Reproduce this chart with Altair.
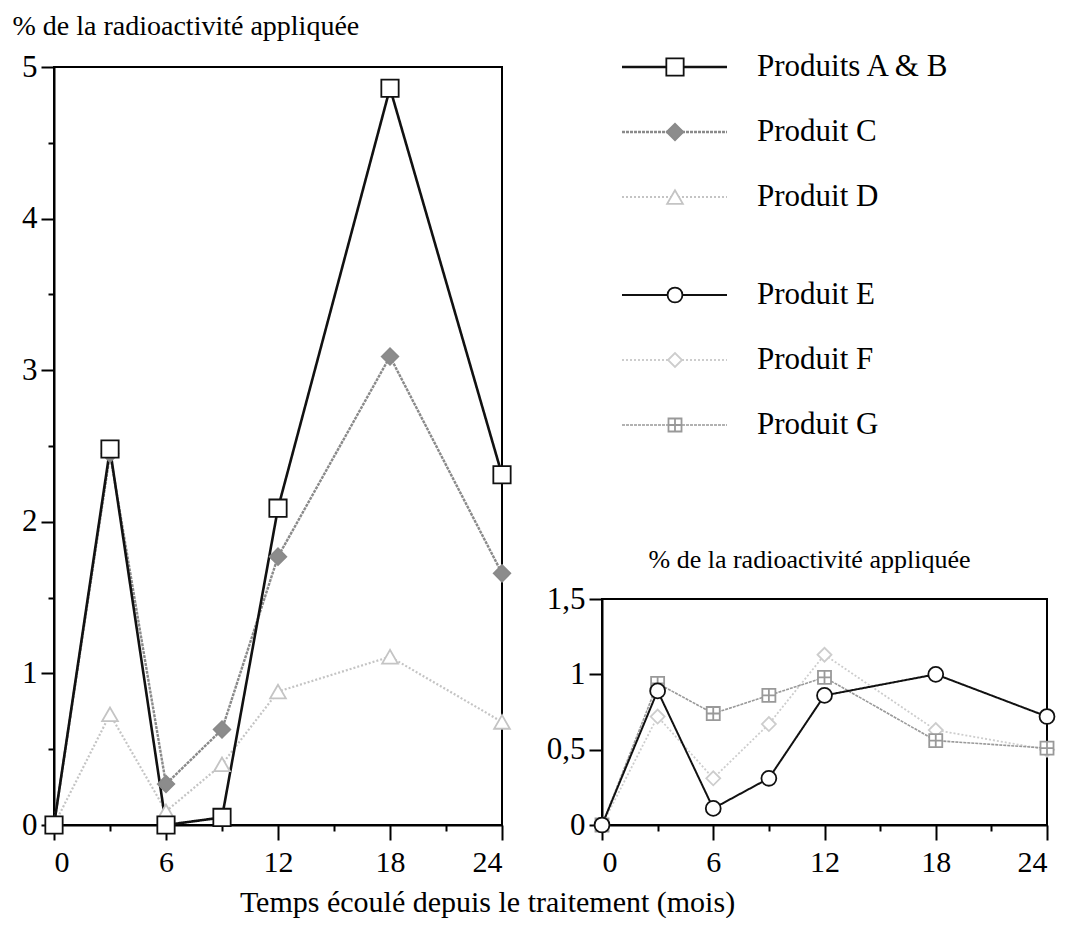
import altair as alt
import pandas as pd

# ---- data ----
months = [0, 3, 6, 9, 12, 18, 24]
prod_ab = [0, 2.48, 0, 0.05, 2.09, 4.86, 2.31]
prod_c = [0, 2.45, 0.27, 0.63, 1.77, 3.09, 1.66]
prod_d = [0, 0.73, 0.09, 0.40, 0.88, 1.11, 0.68]
prod_e = [0, 0.89, 0.11, 0.31, 0.86, 1.00, 0.72]
prod_f = [0, 0.72, 0.31, 0.67, 1.13, 0.63, 0.50]
prod_g = [0, 0.94, 0.74, 0.86, 0.98, 0.56, 0.51]

left_names = ["Produits A & B", "Produit C", "Produit D"]
right_names = ["Produit E", "Produit F", "Produit G"]
all_names = left_names + right_names

left_ticks = [0, 0.5, 1, 1.5, 2, 2.5, 3, 3.5, 4, 4.5, 5]
right_ticks = [0, 0.5, 1, 1.5]
x_ticks = [0, 3, 6, 9, 12, 15, 18, 21, 24]

# ---- styles ----
stroke_colors = ["#111111", "#8a8a8a", "#c4c4c4", "#111111", "#cdcdcd", "#999999"]
fill_colors = ["white", "#8c8c8c", "white", "white", "white", "white"]
dashes = [[1, 0], [3, 1], [2, 2], [1, 0], [2, 2], [3, 1]]
widths = [2.6, 1.6, 1.4, 2.2, 1.4, 1.6]
shapes = ["square", "diamond", "triangle-up", "circle", "diamond",
          "M-1,-1H1V1H-1ZM0,-1V1M-1,0H1"]
sizes = [300, 170, 200, 320, 180, 230]

FONT = "Liberation Serif"

def long(names, series):
    rows = []
    for n, vals in zip(names, series):
        for m, v in zip(months, vals):
            rows.append({"month": m, "value": v, "series": n})
    return pd.DataFrame(rows)

# draw order: lighter series first, black series on top
left_df = long(["Produit D", "Produit C", "Produits A & B"], [prod_d, prod_c, prod_ab])
right_df = long(["Produit F", "Produit G", "Produit E"], [prod_f, prod_g, prod_e])

def enc_scales():
    return dict(
        stroke=alt.Stroke("series:N", scale=alt.Scale(domain=all_names, range=stroke_colors), legend=None),
        strokeDash=alt.StrokeDash("series:N", scale=alt.Scale(domain=all_names, range=dashes), legend=None),
        strokeWidth=alt.StrokeWidth("series:N", scale=alt.Scale(domain=all_names, range=widths), legend=None),
    )

def point_scales():
    return dict(
        stroke=alt.Stroke("series:N", scale=alt.Scale(domain=all_names, range=stroke_colors), legend=None),
        fill=alt.Fill("series:N", scale=alt.Scale(domain=all_names, range=fill_colors), legend=None),
        shape=alt.Shape("series:N", scale=alt.Scale(domain=all_names, range=shapes), legend=None),
        size=alt.Size("series:N", scale=alt.Scale(domain=all_names, range=sizes), legend=None),
    )

x_label_expr = "datum.value % 6 === 0 ? format(datum.value, 'd') : ''"
x_tick_size = {"condition": {"test": "datum.value % 6 === 0", "value": 15}, "value": 6}

def x_axis(title=None):
    kw = dict(values=x_ticks, labelExpr=x_label_expr, tickSize=x_tick_size,
              labelFont=FONT, labelFontSize=30, labelPadding=7, labelAngle=0)
    if title:
        kw.update(title=title, titleFont=FONT, titleFontSize=30, titleX=433, titleY=86,
                  titleAlign="center", titleBaseline="alphabetic", titleAnchor="start",
                  titleFontWeight="normal")
    else:
        kw.update(title="")
    return alt.Axis(**kw)

# ---- left panel ----
left_base = alt.Chart(left_df).encode(
    x=alt.X("month:Q", scale=alt.Scale(domain=[0, 24], nice=False),
            axis=x_axis("Temps écoulé depuis le traitement (mois)")),
    y=alt.Y("value:Q", scale=alt.Scale(domain=[0, 5], nice=False),
            axis=alt.Axis(values=left_ticks,
                          labelExpr="datum.value % 1 === 0 ? format(datum.value, 'd') : ''",
                          tickSize={"condition": {"test": "datum.value % 1 === 0", "value": 13}, "value": 6},
                          labelFont=FONT, labelFontSize=31, labelPadding=4,
                          title="% de la radioactivité appliquée", titleFont=FONT,
                          titleFontSize=28, titleFontWeight="normal",
                          titleAngle=0, titleAlign="left", titleBaseline="alphabetic",
                          titleX=-42, titleY=-33)),
)
left = alt.layer(
    left_base.mark_line().encode(**enc_scales()),
    left_base.mark_point(filled=True, strokeWidth=1.8, opacity=1).encode(**point_scales()),
).properties(width=448, height=758,
             view=alt.ViewBackground(stroke="black", strokeWidth=2))

# ---- right panel ----
right_base = alt.Chart(right_df).encode(
    x=alt.X("month:Q", scale=alt.Scale(domain=[0, 24], nice=False), axis=x_axis()),
    y=alt.Y("value:Q", scale=alt.Scale(domain=[0, 1.5], nice=False),
            axis=alt.Axis(values=right_ticks,
                          labelExpr="replace(format(datum.value, '~g'), '.', ',')",
                          tickSize=13, labelFont=FONT, labelFontSize=31, labelPadding=4,
                          title="% de la radioactivité appliquée", titleFont=FONT,
                          titleFontSize=26, titleFontWeight="normal",
                          titleAngle=0, titleAlign="left", titleBaseline="alphabetic",
                          titleX=46, titleY=-32)),
)
right = alt.layer(
    right_base.mark_line().encode(**enc_scales()),
    right_base.mark_point(filled=True, strokeWidth=1.8, opacity=1).encode(**point_scales()),
).properties(width=445, height=226,
             view=alt.ViewBackground(stroke="black", strokeWidth=2))

# ---- legend blocks ----
def legend_block(names, height, rng):
    df = pd.DataFrame({"series": names})
    y = alt.Y("series:N", scale=alt.Scale(type="point", domain=names, range=rng, padding=0),
              axis=None)
    base = alt.Chart(df).encode(y=y)
    rule = base.mark_rule().encode(x=alt.value(20), x2=alt.value(125), **enc_scales())
    pts = base.mark_point(filled=True, strokeWidth=1.8, opacity=1).encode(x=alt.value(73), **point_scales())
    txt = base.mark_text(align="left", baseline="middle", fontSize=31, font=FONT,
                         color="black").encode(x=alt.value(155), text="series:N")
    return alt.layer(rule, pts, txt).properties(
        width=445, height=height, view=alt.ViewBackground(strokeWidth=0))

leg1 = legend_block(left_names, 130, [0, 130])
leg2 = legend_block(right_names, 206, [0, 130])

right_col = alt.vconcat(leg1, leg2, right, spacing=98, bounds="flush")

chart = alt.hconcat(left, right_col, spacing=100, bounds="flush").properties(
    padding={"left": 3, "top": 3, "right": 0, "bottom": 0},
    background="white",
).configure_view(strokeWidth=0).configure_axis(
    labelFont=FONT, titleFont=FONT, labelColor="black", titleColor="black",
    domainColor="black", tickColor="black", domainWidth=2, tickWidth=2,
    grid=False, titleFontWeight="normal"
)

chart.save("out.html", embed_options={"renderer": "svg", "actions": False})
